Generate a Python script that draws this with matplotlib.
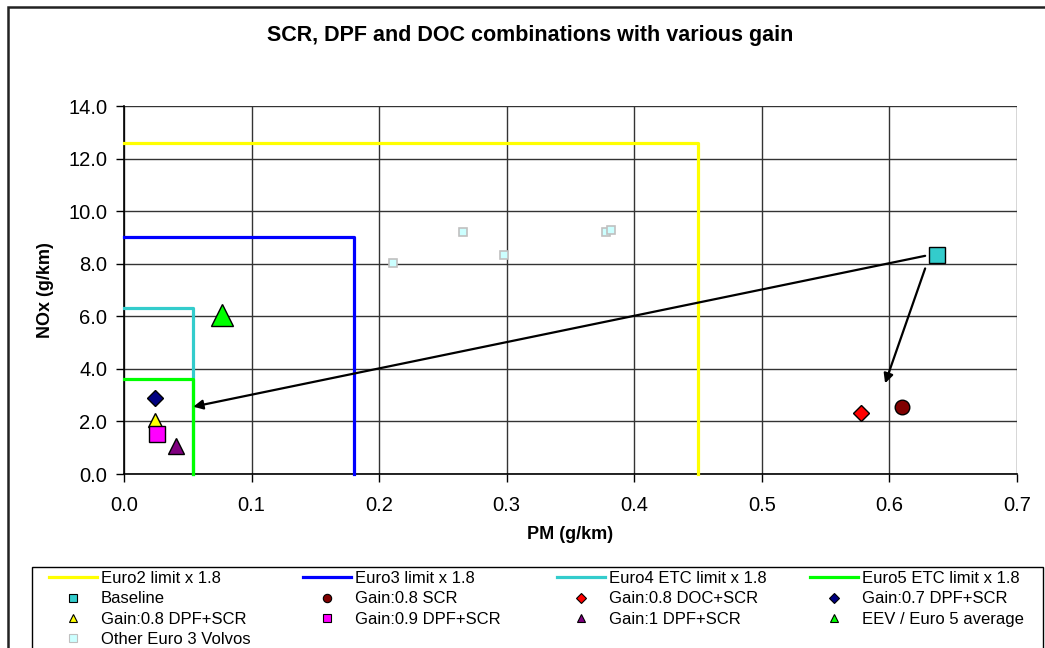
import matplotlib
matplotlib.use("Agg")
import matplotlib.pyplot as plt
from matplotlib.lines import Line2D
from matplotlib.patches import Rectangle

plt.rcParams['font.family'] = ['Liberation Sans', 'DejaVu Sans']

# emission limits x 1.8 (PM, NOx)
limit_names = ["Euro2 limit x 1.8", "Euro3 limit x 1.8",
               "Euro4 ETC limit x 1.8", "Euro5 ETC limit x 1.8"]
limit_pm = [0.45, 0.18, 0.054, 0.054]
limit_nox = [12.6, 9.0, 6.3, 3.6]
limit_colors = ["#FFFF00", "#0000FF", "#33CCCC", "#00FF00"]

# measured / estimated points
pt_names = ["Baseline", "Gain:0.8 SCR", "Gain:0.8 DOC+SCR", "Gain:0.7 DPF+SCR",
            "Gain:0.8 DPF+SCR", "Gain:0.9 DPF+SCR", "Gain:1 DPF+SCR",
            "EEV / Euro 5 average"]
pt_pm = [0.637, 0.610, 0.578, 0.024, 0.024, 0.026, 0.041, 0.077]
pt_nox = [8.33, 2.54, 2.33, 2.89, 2.05, 1.52, 1.08, 6.05]
pt_markers = ["s", "o", "D", "D", "^", "s", "^", "^"]
pt_colors = ["#33CCCC", "#800000", "#FF0000", "#000080",
             "#FFFF00", "#FF00FF", "#800080", "#00FF00"]
pt_sizes = [11, 10.5, 8, 8.5, 10, 11, 12, 16.5]

other_pm = [0.211, 0.266, 0.298, 0.378, 0.382]
other_nox = [8.01, 9.21, 8.33, 9.21, 9.28]

# arrows (from, to)
arrow_from = [(0.628, 8.30), (0.628, 7.82)]
arrow_to = [(0.0543, 2.56), (0.5966, 3.45)]

fig = plt.figure(figsize=(10.45, 6.48), dpi=100)
ax = fig.add_axes([124 / 1045, 1 - 474 / 648, (1017 - 124) / 1045, (474 - 106) / 648])

line_handles = []
for name, pm, nox, c in zip(limit_names, limit_pm, limit_nox, limit_colors):
    ax.plot([0, pm, pm], [nox, nox, 0], color=c, lw=2.3, zorder=3, clip_on=False)
    line_handles.append(Line2D([], [], color=c, lw=2.3, label=name))

ax.plot(other_pm, other_nox, ls="none", marker="s", ms=6, mfc="#CCFFFF",
        mec="#C0C0C0", mew=1.2, zorder=4)

for (x0, y0), (x1, y1) in zip(arrow_from, arrow_to):
    ax.annotate("", xy=(x1, y1), xytext=(x0, y0),
                arrowprops=dict(arrowstyle="-|>", color="black", lw=1.6,
                                mutation_scale=14, shrinkA=0, shrinkB=0),
                zorder=5)

pt_handles = []
for name, x, y, m, c, s in zip(pt_names, pt_pm, pt_nox, pt_markers, pt_colors, pt_sizes):
    ax.plot([x], [y], ls="none", marker=m, ms=s, mfc=c, mec="black", mew=1.0, zorder=6)
    ms_leg = 5 if m == "D" else 6
    pt_handles.append(Line2D([], [], ls="none", marker=m, ms=ms_leg, mfc=c,
                             mec="black", mew=0.8, label=name))
other_handle = Line2D([], [], ls="none", marker="s", ms=6, mfc="#CCFFFF",
                      mec="#C0C0C0", mew=0.8, label="Other Euro 3 Volvos")

ax.set_xlim(0, 0.7)
ax.set_ylim(0, 14)
ax.set_xticks([i / 10 for i in range(8)])
ax.set_yticks(range(0, 15, 2))
ax.set_xticklabels([f"{i / 10:.1f}" for i in range(8)])
ax.set_yticklabels([f"{v:.1f}" for v in range(0, 15, 2)])
ax.tick_params(labelsize=14.5, length=6, width=1, direction="out", color="black")
ax.tick_params(axis="x", pad=10)
ax.tick_params(axis="y", pad=6)
ax.grid(True, color="#333333", lw=1.0)
ax.set_axisbelow(True)
for side in ["top", "right"]:
    ax.spines[side].set_visible(False)
for side in ["left", "bottom"]:
    ax.spines[side].set_color("black")
    ax.spines[side].set_linewidth(1.2)

ax.set_xlabel("PM (g/km)", fontsize=13, fontweight="bold", labelpad=8)
ax.set_ylabel("NOx (g/km)", fontsize=13, fontweight="bold", labelpad=10)
fig.text(530 / 1045, 1 - 35 / 648, "SCR, DPF and DOC combinations with various gain",
         ha="center", va="center", fontsize=15.5, fontweight="bold")

# legend: one block per column, laid out in rows like the original
columns = [[line_handles[0], pt_handles[0], pt_handles[4], other_handle],
           [line_handles[1], pt_handles[1], pt_handles[5]],
           [line_handles[2], pt_handles[2], pt_handles[6]],
           [line_handles[3], pt_handles[3], pt_handles[7]]]
col_x = [49, 303, 557, 810]
for handles, x in zip(columns, col_x):
    fig.legend(handles=handles, loc="upper left",
               bbox_to_anchor=(x / 1045, 1 - 571 / 648),
               bbox_transform=fig.transFigure, fontsize=12, frameon=False,
               handlelength=2.9, handletextpad=0.2, labelspacing=0.32,
               borderpad=0, borderaxespad=0)

fig.patches.append(Rectangle((32 / 1045, -0.1), 1011 / 1045, 0.1 + 1 - 567 / 648,
                             fill=False, edgecolor="black", lw=1.0,
                             transform=fig.transFigure, figure=fig))
fig.patches.append(Rectangle((8 / 1045, -0.1), 1.2, 1.1 - 7 / 648, fill=False,
                             edgecolor="#222222", lw=1.8, transform=fig.transFigure,
                             figure=fig))

fig.savefig("out.png", dpi=100)
